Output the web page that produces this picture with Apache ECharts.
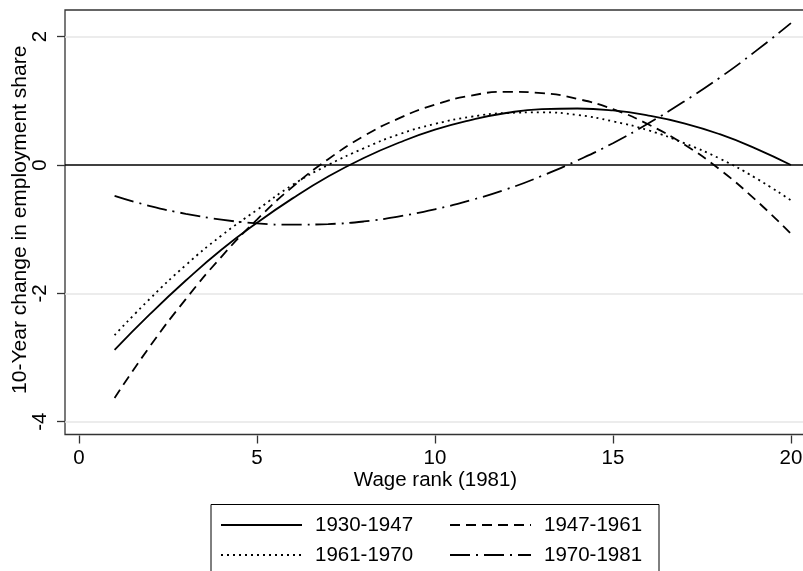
<!DOCTYPE html>
<html>
<head>
<meta charset="utf-8">
<script src="https://cdn.jsdelivr.net/npm/echarts@6/dist/echarts.min.js"></script>
<style>
html,body{margin:0;padding:0;background:#fff;}
#chart{width:803px;height:571px;}
</style>
</head>
<body>
<div id="chart"></div>
<script>
// ---- data ----
const wageRank = [1,2,3,4,5,6,7,8,9,10,11,12,13,14,15,16,17,18,19,20];
const seriesNames = ['1930-1947','1947-1961','1961-1970','1970-1981'];
const s1930_1947 = [-2.88,-2.32,-1.80,-1.32,-0.90,-0.52,-0.18,0.11,0.35,0.55,0.70,0.81,0.87,0.88,0.85,0.77,0.65,0.48,0.26,0.00];
const s1947_1961 = [-3.63,-2.82,-2.09,-1.43,-0.85,-0.34,0.09,0.45,0.73,0.94,1.08,1.14,1.12,1.03,0.87,0.63,0.32,-0.07,-0.54,-1.07];
const s1961_1970 = [-2.65,-2.08,-1.56,-1.10,-0.70,-0.31,0.00,0.26,0.48,0.64,0.75,0.81,0.82,0.78,0.68,0.54,0.34,0.10,-0.20,-0.55];
const s1970_1981 = [-0.48,-0.64,-0.76,-0.85,-0.91,-0.93,-0.92,-0.88,-0.80,-0.69,-0.55,-0.38,-0.17,0.07,0.34,0.65,0.99,1.36,1.77,2.21];
const xTicks = [0,5,10,15,20];
const yTicks = [-4,-2,0,2];
const gridLineValues = [-4,-2,2];
const zeroLineValue = 0;

const allSeries = [s1930_1947, s1947_1961, s1961_1970, s1970_1981];
const dashTypes = ['solid', [10,6], [2,4], [20,6,2,6]];

const FONT = 'Liberation Sans, Arial, Helvetica, sans-serif';
const BOX = '#333';

const chart = echarts.init(document.getElementById('chart'), null, {renderer:'canvas'});

const lineSeries = allSeries.map((vals, i) => ({
  name: seriesNames[i],
  type: 'line',
  data: wageRank.map((x, j) => [x, vals[j]]),
  symbol: 'none',
  smooth: true,
  z: 5,
  lineStyle: {color:'#000', width:1.8, type: dashTypes[i]},
  itemStyle: {color:'#000'}
}));

const legendCommon = {
  orient:'horizontal', padding:0, itemWidth:81, itemHeight:14,
  borderWidth:0, selectedMode:false,
  itemStyle:{opacity:0, borderWidth:0},
  textStyle:{fontSize:20.5, color:'#000', fontFamily:FONT, lineHeight:24, padding:[0,0,0,8]}
};

const option = {
  backgroundColor:'#fff',
  animation:false,
  grid:{left:65, top:10, width:748, height:424.5, show:true, borderColor:BOX, borderWidth:1.3,
        backgroundColor:'transparent', containLabel:false, outerBoundsMode:'none'},
  xAxis:{
    type:'value', min:-0.393, max:20.62, offset:1,
    axisLine:{show:false, onZero:false},
    axisTick:{show:true, inside:false, customValues:xTicks, length:8, lineStyle:{color:BOX, width:1.3}},
    axisLabel:{show:true, inside:false, customValues:xTicks, margin:12, fontSize:20.5, color:'#000', fontFamily:FONT},
    splitLine:{show:false},
    name:'Wage rank (1981)', nameLocation:'middle', nameGap:34, nameMoveOverlap:false,
    nameTextStyle:{fontSize:20.5, color:'#000', fontFamily:FONT, padding:[0,7,0,0]}
  },
  yAxis:{
    type:'value', min:-4.199, max:2.415,
    axisLine:{show:false, onZero:false},
    axisTick:{show:true, inside:false, customValues:yTicks, length:8, lineStyle:{color:BOX, width:1.3}},
    axisLabel:{show:true, inside:false, customValues:yTicks, rotate:90, margin:14, fontSize:20.5, color:'#000', fontFamily:FONT},
    splitLine:{show:false},
    name:'10-Year change in employment share', nameLocation:'middle', nameGap:34, nameRotate:90, nameMoveOverlap:false,
    nameTextStyle:{fontSize:21, color:'#000', fontFamily:FONT, padding:[0,0,0,5]}
  },
  legend: seriesNames.map((n, i) => Object.assign({}, legendCommon, {
    data:[n], left: (i % 2 === 0) ? 220 : 449, top: (i < 2) ? 513 : 543
  })),
  graphic:[{
    type:'rect', silent:true,
    shape:{x:211, y:504.5, width:448, height:90},
    style:{fill:'none', stroke:'#000', lineWidth:1}
  }],
  series:[
    {
      type:'line', data:[], silent:true, z:1,
      markLine:{
        silent:true, symbol:'none', animation:false,
        label:{show:false},
        lineStyle:{color:'#e6e6e6', width:1.5, type:'solid'},
        data: gridLineValues.map(v => ({yAxis:v}))
      }
    },
    {
      type:'line', data:[], silent:true, z:2,
      markLine:{
        silent:true, symbol:'none', animation:false,
        label:{show:false},
        lineStyle:{color:'#000', width:1.5, type:'solid'},
        data:[{yAxis:zeroLineValue}]
      }
    }
  ].concat(lineSeries)
};

chart.setOption(option);
</script>
</body>
</html>
